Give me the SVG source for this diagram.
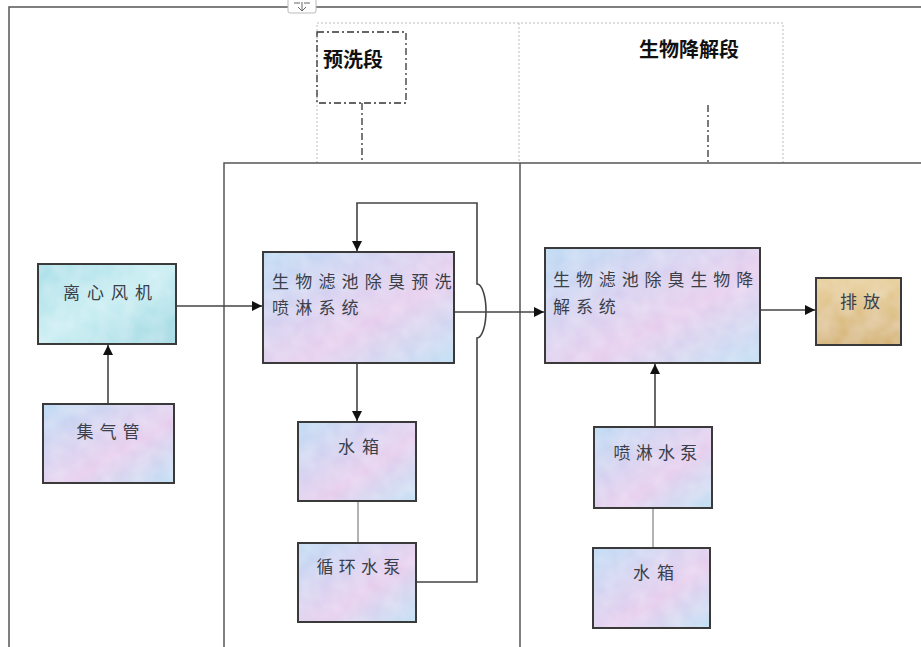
<svg xmlns="http://www.w3.org/2000/svg" width="921" height="647" viewBox="0 0 921 647">
<style>
.frame{fill:none;stroke:#555;stroke-width:1.5}
.dot{fill:none;stroke:#bdbdbd;stroke-width:1;stroke-dasharray:2,2}
.dd{fill:none;stroke:#333;stroke-width:1.3;stroke-dasharray:7,3,2,3}
.box{stroke:#3a3a3a;stroke-width:2}
.tx{font-family:"Noto Sans CJK SC","Noto Sans CJK TC",sans-serif;font-size:17px;fill:#3a3f4a}
.hd{font-family:"Noto Sans CJK SC",sans-serif;font-size:20px;font-weight:bold;fill:#111}
.ln{fill:none;stroke:#444;stroke-width:1.6}
.thin{fill:none;stroke:#666;stroke-width:1}
</style>
<defs>
<linearGradient id="g1" x1="0" y1="0" x2="1" y2="1">
<stop offset="0" stop-color="#b4d6f2"/>
<stop offset="0.35" stop-color="#d2cdef"/>
<stop offset="0.6" stop-color="#e4c8ec"/>
<stop offset="1" stop-color="#b8dcf2"/>
</linearGradient>
<linearGradient id="g2" x1="0" y1="0" x2="1" y2="1">
<stop offset="0" stop-color="#9fdbe6"/>
<stop offset="0.5" stop-color="#c3ecf1"/>
<stop offset="1" stop-color="#8fd2df"/>
</linearGradient>
<linearGradient id="g3" x1="0" y1="0" x2="0" y2="1">
<stop offset="0" stop-color="#e5c98a"/>
<stop offset="1" stop-color="#d2ac62"/>
</linearGradient>
<filter id="tex" x="0" y="0" width="1" height="1">
<feTurbulence type="fractalNoise" baseFrequency="0.06" numOctaves="2" seed="3" result="n"/>
<feColorMatrix in="n" type="matrix" values="0 0 0 0 1  0 0 0 0 1  0 0 0 0 1  0 0 0 0.35 0" result="w"/>
<feComposite in="w" in2="SourceGraphic" operator="atop"/>
</filter>
<marker id="ar" viewBox="0 0 10 10" refX="10" refY="5" markerWidth="10" markerHeight="10" markerUnits="userSpaceOnUse" orient="auto">
<path d="M0,0 L10,5 L0,10 z" fill="#111"/>
</marker>
</defs>
<rect width="921" height="647" fill="#fff"/>

<g id="frame">
<path class="frame" d="M9,647 V7 H921" stroke="#888"/>
<rect x="288" y="-2" width="28" height="15" rx="2" fill="#fff" stroke="#bbb"/>
<path d="M302,2 V11 M298,7 L302,11 L306,7 M294,3 H300 M304,3 H310" fill="none" stroke="#666" stroke-width="1"/>
<path class="dot" d="M317,163 V23 H783 V163 M519,23 V163"/>
<path class="frame" d="M224,647 V163 H921 M520,163 V647" stroke="#333"/>
</g>

<g id="stage1">
<rect class="dd" x="317" y="32" width="89" height="71" fill="#fff"/>
<text class="hd" x="323" y="67">预洗段</text>
<path class="dd" d="M362,103 V163"/>
</g>
<g id="stage2">
<text class="hd" x="639" y="57" font-size="21">生物降解段</text>
<path class="dd" d="M708,105 V163"/>
</g>

<g id="connectors">
<path class="ln" d="M108,404 V345" marker-end="url(#ar)"/>
<path class="ln" d="M176,306 H262" marker-end="url(#ar)"/>
<path class="ln" d="M357,363 V421" marker-end="url(#ar)"/>
<path class="thin" d="M358,501 V543"/>
<path class="ln" d="M416,582 H477 V338 A9,27 0 0 0 477,284 V203 H357 V251" marker-end="url(#ar)"/>
<path class="ln" d="M454,312 H544" marker-end="url(#ar)"/>
<path class="ln" d="M760,310 H815" marker-end="url(#ar)"/>
<path class="ln" d="M655,427 V364" marker-end="url(#ar)"/>
<path class="thin" d="M653,508 V548"/>
</g>

<g id="fan">
<rect class="box" x="38" y="264" width="138" height="80" fill="url(#g2)" filter="url(#tex)"/>
<rect class="box" x="38" y="264" width="138" height="80" fill="none"/>
<text class="tx" x="111" y="299" text-anchor="middle" letter-spacing="7">离心风机</text>
</g>
<g id="pipe">
<rect class="box" x="43" y="404" width="131" height="79" fill="url(#g1)" filter="url(#tex)"/>
<rect class="box" x="43" y="404" width="131" height="79" fill="none"/>
<text class="tx" x="111" y="438" text-anchor="middle" letter-spacing="6">集气管</text>
</g>
<g id="prewash">
<rect class="box" x="263" y="252" width="191" height="111" fill="url(#g1)" filter="url(#tex)"/>
<rect class="box" x="263" y="252" width="191" height="111" fill="none"/>
<text class="tx" x="272" y="288" font-size="17.5" letter-spacing="6.2">生物滤池除臭预洗</text>
<text class="tx" x="272" y="314" font-size="17.5" letter-spacing="6.2">喷淋系统</text>
</g>
<g id="tank1">
<rect class="box" x="298" y="422" width="118" height="79" fill="url(#g1)" filter="url(#tex)"/>
<rect class="box" x="298" y="422" width="118" height="79" fill="none"/>
<text class="tx" x="362" y="453" text-anchor="middle" letter-spacing="7">水箱</text>
</g>
<g id="pump1">
<rect class="box" x="298" y="543" width="118" height="79" fill="url(#g1)" filter="url(#tex)"/>
<rect class="box" x="298" y="543" width="118" height="79" fill="none"/>
<text class="tx" x="361" y="573" text-anchor="middle" letter-spacing="5.3">循环水泵</text>
</g>
<g id="bio">
<rect class="box" x="545" y="248" width="215" height="115" fill="url(#g1)" filter="url(#tex)"/>
<rect class="box" x="545" y="248" width="215" height="115" fill="none"/>
<text class="tx" x="553" y="286" font-size="17.5" letter-spacing="5.9">生物滤池除臭生物降</text>
<text class="tx" x="553" y="313" font-size="17.5" letter-spacing="5.9">解系统</text>
</g>
<g id="discharge">
<rect class="box" x="816" y="278" width="85" height="67" fill="url(#g3)" filter="url(#tex)"/>
<rect class="box" x="816" y="278" width="85" height="67" fill="none"/>
<text class="tx" x="863" y="308" text-anchor="middle" letter-spacing="6">排放</text>
</g>
<g id="pump2">
<rect class="box" x="594" y="427" width="118" height="81" fill="url(#g1)" filter="url(#tex)"/>
<rect class="box" x="594" y="427" width="118" height="81" fill="none"/>
<text class="tx" x="658" y="459" text-anchor="middle" letter-spacing="5.3">喷淋水泵</text>
</g>
<g id="tank2">
<rect class="box" x="593" y="548" width="117" height="80" fill="url(#g1)" filter="url(#tex)"/>
<rect class="box" x="593" y="548" width="117" height="80" fill="none"/>
<text class="tx" x="657" y="579" text-anchor="middle" letter-spacing="7">水箱</text>
</g>
</svg>
